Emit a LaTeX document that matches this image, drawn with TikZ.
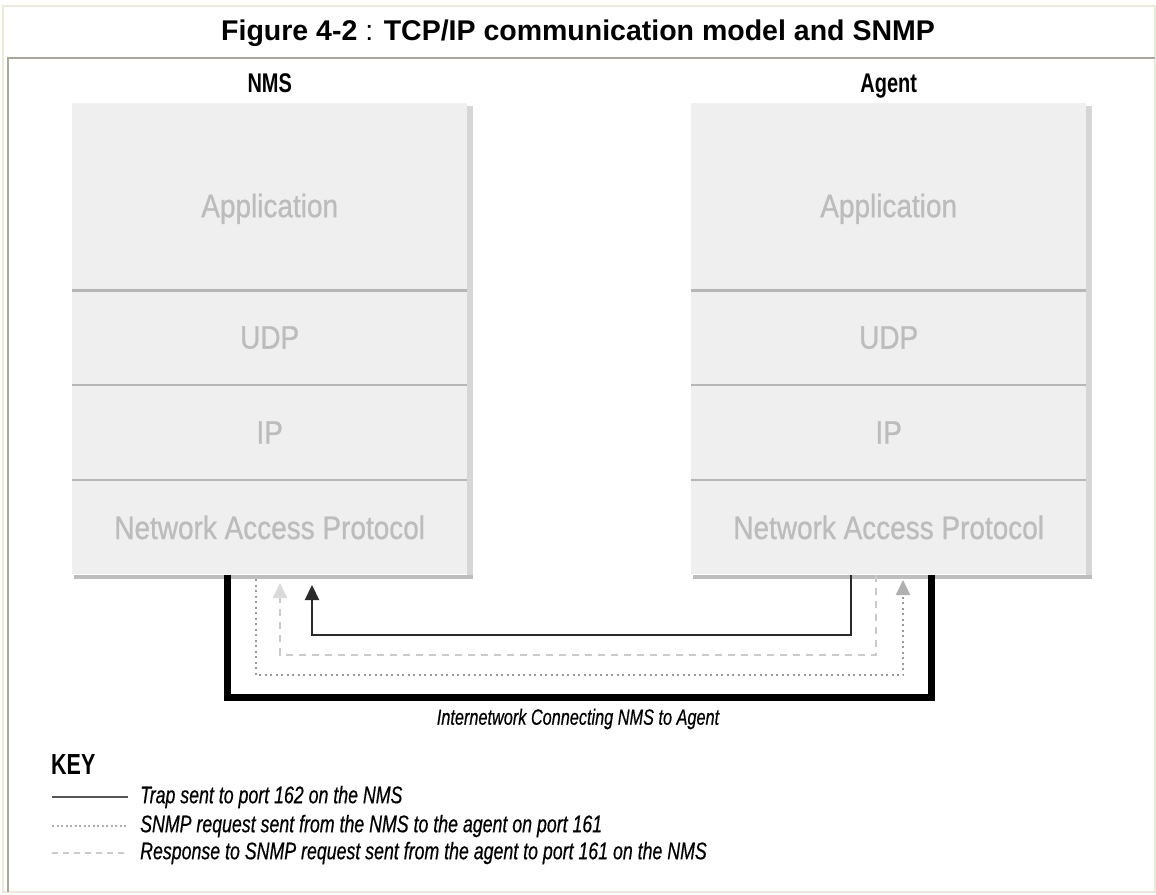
\documentclass[tikz,border=0pt]{standalone}
\usepackage{fontspec}
\setmainfont{Liberation Sans}
\newfontfamily\condfont[FakeStretch=0.74]{Liberation Sans}
\newfontfamily\keyfont[FakeStretch=0.74, FakeBold=0.5]{Liberation Sans}
\newfontfamily\layerfont[FakeStretch=0.86, FakeBold=0.8]{Liberation Sans}
\usetikzlibrary{arrows.meta,calc}

\definecolor{framebeige}{HTML}{ECE9D8}
\definecolor{framegrey}{HTML}{ACA899}
\definecolor{layerfill}{HTML}{EFEFEF}
\definecolor{layertext}{HTML}{BCBCBC}
\definecolor{dividerc}{HTML}{B6B6B6}
\definecolor{shadowside}{HTML}{D6D6D6}
\definecolor{shadowbottom}{HTML}{BDBDBD}
\definecolor{trapc}{HTML}{2A2A2A}
\definecolor{requestc}{HTML}{9A9A9A}
\definecolor{requesttip}{HTML}{B0B0B0}
\definecolor{responsec}{HTML}{CACACA}
\definecolor{responsetip}{HTML}{DADADA}

\tikzset{
  layer/.style={rectangle, fill=layerfill, draw=none, inner sep=0pt,
    minimum width=395pt, anchor=north west,
    font=\layerfont\fontsize{32.5}{36}\selectfont, text=layertext},
  toplayer/.style={layer, minimum height=187pt, text height=44pt, text depth=3pt},
  divider/.style={draw=dividerc, line width=2.4pt},
  hostlabel/.style={anchor=base, font=\condfont\bfseries\fontsize{27}{30}\selectfont},
  internet/.style={draw=black, line width=7pt, line join=miter},
  trap/.style={draw=trapc, line width=2.2pt,
    -{Triangle[length=15pt,width=14pt]}},
  request/.style={draw=requestc, line width=2.4pt, dash pattern=on 2pt off 3.5pt,
    -{Triangle[length=15pt,width=14pt,color=requesttip]}},
  response/.style={draw=responsec, line width=2.2pt, dash pattern=on 7pt off 6pt,
    -{Triangle[length=15pt,width=14pt,color=responsetip]}},
  keytext/.style={anchor=west, inner sep=0pt,
    font=\keyfont\itshape\fontsize{24}{26}\selectfont},
}

\begin{document}
\begin{tikzpicture}[x=1pt, y=-1pt]
\path[use as bounding box, fill=white] (0,0) rectangle (1156,894);

% page frame: light outer border, inset grey edge on top and left
\draw[framebeige, line width=2.5pt] (3,6) rectangle (1155,892);
\draw[framegrey, line width=2.5pt] (8,892) -- (8,58) -- (1155,58);

% caption
\node (title) at (578,33) {\fontsize{28.5}{32}\selectfont\bfseries Figure 4-2\mdseries{} : \bfseries TCP/IP communication model and SNMP};

% NMS protocol stack
\node[toplayer] (nms-app) at (72,103) {Application};
\node[layer, minimum height=94pt] (nms-udp) at (nms-app.south west) {UDP};
\node[layer, minimum height=95pt] (nms-ip) at (nms-udp.south west) {IP};
\node[layer, minimum height=94pt] (nms-nap) at (nms-ip.south west) {Network Access Protocol};

% Agent protocol stack
\node[toplayer] (agent-app) at (691,103) {Application};
\node[layer, minimum height=94pt] (agent-udp) at (agent-app.south west) {UDP};
\node[layer, minimum height=95pt] (agent-ip) at (agent-udp.south west) {IP};
\node[layer, minimum height=94pt] (agent-nap) at (agent-ip.south west) {Network Access Protocol};

% drop shadows and layer dividers
\foreach \s in {nms,agent}{
  \fill[shadowside] ($(\s-app.north east)+(0,3)$) rectangle ($(\s-nap.south east)+(6,4)$);
  \fill[shadowbottom] ($(\s-nap.south west)+(2,0)$) rectangle ($(\s-nap.south east)+(6,4)$);
  \draw[divider] (\s-app.south west) -- (\s-app.south east);
  \draw[divider] (\s-udp.south west) -- (\s-udp.south east);
  \draw[divider] (\s-ip.south west) -- (\s-ip.south east);
}

% host names
\node[hostlabel] (nms) at ($(nms-app.north)+(0,-11)$) {NMS};
\node[hostlabel] (agent) at ($(agent-app.north)+(0,-11)$) {Agent};

% internetwork between the two hosts
\draw[internet] (nms-nap.south -| 227,0) -- (227,697) -| (agent-nap.south -| 931,0);
\node[keytext, anchor=center, font=\keyfont\itshape\fontsize{22}{24}\selectfont] (netlabel) at (578,719) {Internetwork Connecting NMS to Agent};

% trap: agent to NMS
\coordinate (trapend) at (312,585);
\draw[trap] (agent-nap.south -| 851,0) -- (851,635) -| (trapend);

% request: NMS to agent
\coordinate (reqstart) at (256,579);
\coordinate (reqend) at (903,580);
\draw[request] (reqstart) -- (256,675) -| (reqend);

% response: agent to NMS
\coordinate (respend) at (280,583);
\draw[response] (agent-nap.south -| 876,0) -- (876,655) -| (respend);

% legend
\node[anchor=west, inner sep=0pt, font=\condfont\bfseries\fontsize{29}{31}\selectfont] (key) at (51,765) {KEY};
\node[keytext] (k-trap) at (140,797) {Trap sent to port 162 on the NMS};
\node[keytext] (k-req) at (140,826) {SNMP request sent from the NMS to the agent on port 161};
\node[keytext] (k-resp) at (140,853) {Response to SNMP request sent from the agent to port 161 on the NMS};
\draw[draw=trapc!80, line width=2pt] ($(k-trap.west)+(-88,0)$) -- ($(k-trap.west)+(-12,0)$);
\draw[draw=requestc!80, line width=2pt, dash pattern=on 2pt off 2.5pt] ($(k-req.west)+(-88,0)$) -- ($(k-req.west)+(-12,0)$);
\draw[draw=responsec, line width=2pt, dash pattern=on 6pt off 5pt] ($(k-resp.west)+(-88,0)$) -- ($(k-resp.west)+(-12,0)$);
\end{tikzpicture}
\end{document}
